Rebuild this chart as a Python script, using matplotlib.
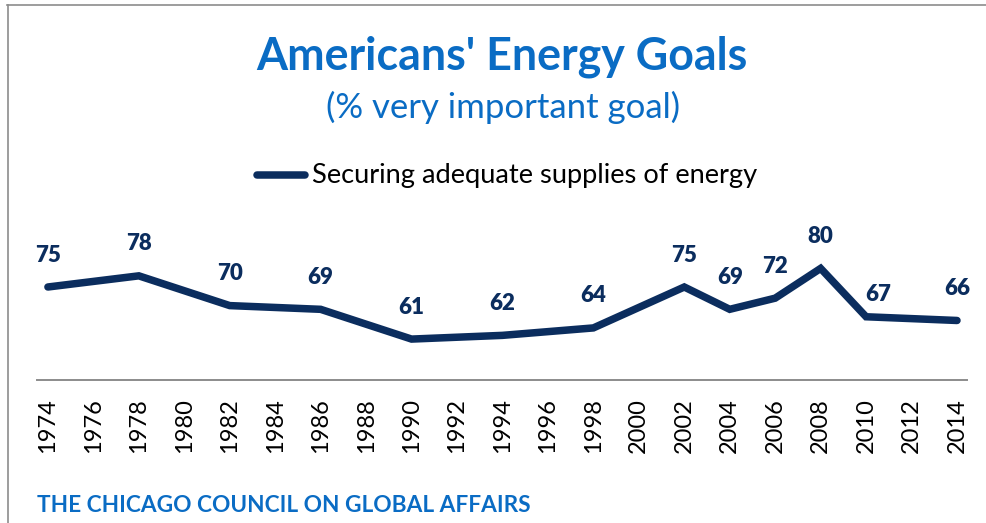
import matplotlib
matplotlib.use("Agg")
import matplotlib.pyplot as plt
from matplotlib.lines import Line2D

# survey years and share rating "securing adequate supplies of energy" very important
years = [1974, 1978, 1982, 1986, 1990, 1994, 1998, 2002, 2004, 2006, 2008, 2010, 2014]
values = [75, 78, 70, 69, 61, 62, 64, 75, 69, 72, 80, 67, 66]
tick_years = list(range(1974, 2015, 2))

TITLE = "Americans' Energy Goals"
SUBTITLE = "(% very important goal)"
SERIES = "Securing adequate supplies of energy"
FOOTER = "THE CHICAGO COUNCIL ON GLOBAL AFFAIRS"

BLUE = "#0A6CC4"
NAVY = "#0B2D5E"
FONT = "Lato"

W, H = 986, 523
fig = plt.figure(figsize=(W / 100, H / 100), dpi=100)

# axes placed in pixel terms: x from 37 to 967, baseline at y=380
ax = fig.add_axes([37 / W, (H - 380) / H, 930 / W, 186 / H])
ax.plot(years, values, color=NAVY, lw=5.4, solid_capstyle="round",
        solid_joinstyle="miter", clip_on=False)

# data labels (2010 sits lower and to the right, as in the original)
label_shift = {2010: (9, 16)}
for yr, v in zip(years, values):
    dx, dy = label_shift.get(yr, (0, 23))
    ax.annotate(str(v), (yr, v), xytext=(dx, dy), textcoords="offset points",
                ha="center", va="center", fontsize=16, fontweight="heavy",
                color=NAVY, family=FONT)

ax.set_xlim(1973.52, 2014.44)
ax.set_ylim(50, 100)
ax.set_xticks(tick_years)
ax.set_xticklabels([str(t) for t in tick_years], rotation=90, fontsize=17,
                   family=FONT, color="black")
ax.tick_params(axis="x", length=0, pad=13)
ax.set_yticks([])
for side in ["top", "right", "left"]:
    ax.spines[side].set_visible(False)
ax.spines["bottom"].set_color("#8c8c8c")
ax.spines["bottom"].set_linewidth(1.4)
ax.patch.set_alpha(0)

# titles
fig.text(502 / W, 1 - 57 / H, TITLE, ha="center", va="center", fontsize=32.2,
         fontweight="bold", color=BLUE, family=FONT)
fig.text(503 / W, 1 - 107 / H, SUBTITLE, ha="center", va="center", fontsize=25,
         color=BLUE, family=FONT)

# legend drawn by hand
fig.add_artist(Line2D([257 / W, 305 / W], [1 - 175 / H, 1 - 175 / H], color=NAVY,
                      lw=5.4, solid_capstyle="round"))
fig.text(312 / W, 1 - 175 / H, SERIES, ha="left", va="center", fontsize=19.6,
         color="black", family=FONT)

fig.text(37 / W, 1 - 506 / H, FOOTER, ha="left", va="center", fontsize=16.3,
         fontweight="bold", color=BLUE, family=FONT)

# thin frame on top and left
fig.add_artist(Line2D([7 / W, 1], [1 - 5 / H, 1 - 5 / H], color="#8c8c8c", lw=1.2))
fig.add_artist(Line2D([8 / W, 8 / W], [0, 1 - 5 / H], color="#8c8c8c", lw=1.2))

fig.savefig("out.png", dpi=100)
